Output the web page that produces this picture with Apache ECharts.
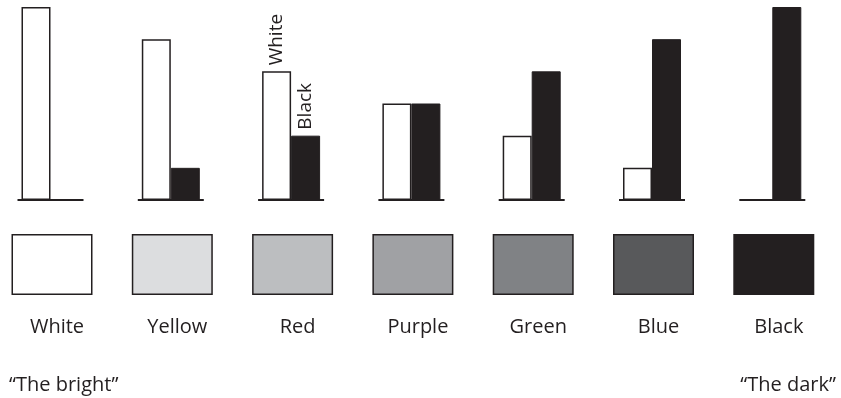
<!DOCTYPE html>
<html><head><meta charset="utf-8">
<script src="https://cdn.jsdelivr.net/npm/echarts@6/dist/echarts.min.js"></script>
<style>html,body{margin:0;padding:0;background:#fff}#c{width:841px;height:398px}</style>
</head><body><div id="c"></div>
<script>
const categories = ['White', 'Yellow', 'Red', 'Purple', 'Green', 'Blue', 'Black'];
const whiteValues = [6, 5, 4, 3, 2, 1, 0];
const blackValues = [0, 1, 2, 3, 4, 5, 6];
const swatchColors = ['#ffffff', '#dcdddf', '#bcbec0', '#a0a1a4', '#808285', '#58595b', '#231f20'];
const labelledCategory = 'Red';
const captions = ['\u201cThe bright\u201d', '\u201cThe dark\u201d'];

const ink = '#231f20';
const font = 'Open Sans';
const fs = 20;
const chart = echarts.init(document.getElementById('c'), null, { renderer: 'canvas' });

const barLabel = {
  show: true, position: 'top', rotate: 90, align: 'left', verticalAlign: 'middle',
  distance: 6, formatter: '{a}', fontSize: 19, color: ink, fontFamily: font
};

chart.setOption({
  animation: false,
  backgroundColor: '#fff',
  title: [
    { text: captions[0], left: 4, top: 370, textStyle: { fontSize: fs, fontWeight: 'normal', color: ink, fontFamily: font } },
    { text: captions[1], right: 0, top: 370, textStyle: { fontSize: fs, fontWeight: 'normal', color: ink, fontFamily: font } }
  ],
  grid: [
    { left: 50.5, right: 68.7, top: 7, height: 193 },
    { left: 52, right: 67.2, top: 234, height: 61 }
  ],
  xAxis: [
    { gridIndex: 0, type: 'category', data: categories, boundaryGap: false, show: false },
    { gridIndex: 1, type: 'category', data: categories, boundaryGap: false,
      axisLine: { show: false }, axisTick: { show: false }, splitLine: { show: false },
      axisLabel: { margin: 22, fontSize: fs, color: ink, fontFamily: font, padding: [0, 0, 0, 10], interval: 0 } }
  ],
  yAxis: [
    { gridIndex: 0, type: 'value', min: 0, max: 6, show: false },
    { gridIndex: 1, type: 'value', min: 0, max: 1, show: false }
  ],
  series: [
    {
      name: 'White', type: 'bar', xAxisIndex: 0, yAxisIndex: 0,
      barWidth: 29, barGap: '0%',
      itemStyle: { color: '#ffffff', borderColor: ink, borderWidth: 1.5 },
      data: whiteValues.map((v, i) => categories[i] === labelledCategory ? { value: v, label: barLabel } : v),
      z: 2
    },
    {
      name: 'Black', type: 'bar', xAxisIndex: 0, yAxisIndex: 0,
      barWidth: 29, barGap: '0%',
      itemStyle: { color: ink, borderColor: ink, borderWidth: 1 },
      data: blackValues.map((v, i) => categories[i] === labelledCategory ? { value: v, label: barLabel } : v),
      z: 2
    },
    {
      name: 'Baseline', type: 'custom', xAxisIndex: 0, yAxisIndex: 0, z: 5,
      clip: false,
      data: categories.map(c => [c, 0]),
      encode: { x: 0, y: 1 },
      renderItem: function (params, api) {
        const p = api.coord([api.value(0), 0]);
        return {
          type: 'line',
          shape: { x1: p[0] - 33, y1: p[1], x2: p[0] + 33, y2: p[1] },
          style: { stroke: ink, lineWidth: 2 }
        };
      }
    },
    {
      name: 'Swatch', type: 'bar', xAxisIndex: 1, yAxisIndex: 1,
      barWidth: 81,
      data: swatchColors.map(c => ({ value: 1, itemStyle: { color: c } })),
      itemStyle: { borderColor: ink, borderWidth: 1.5 }
    }
  ]
});
</script></body></html>
